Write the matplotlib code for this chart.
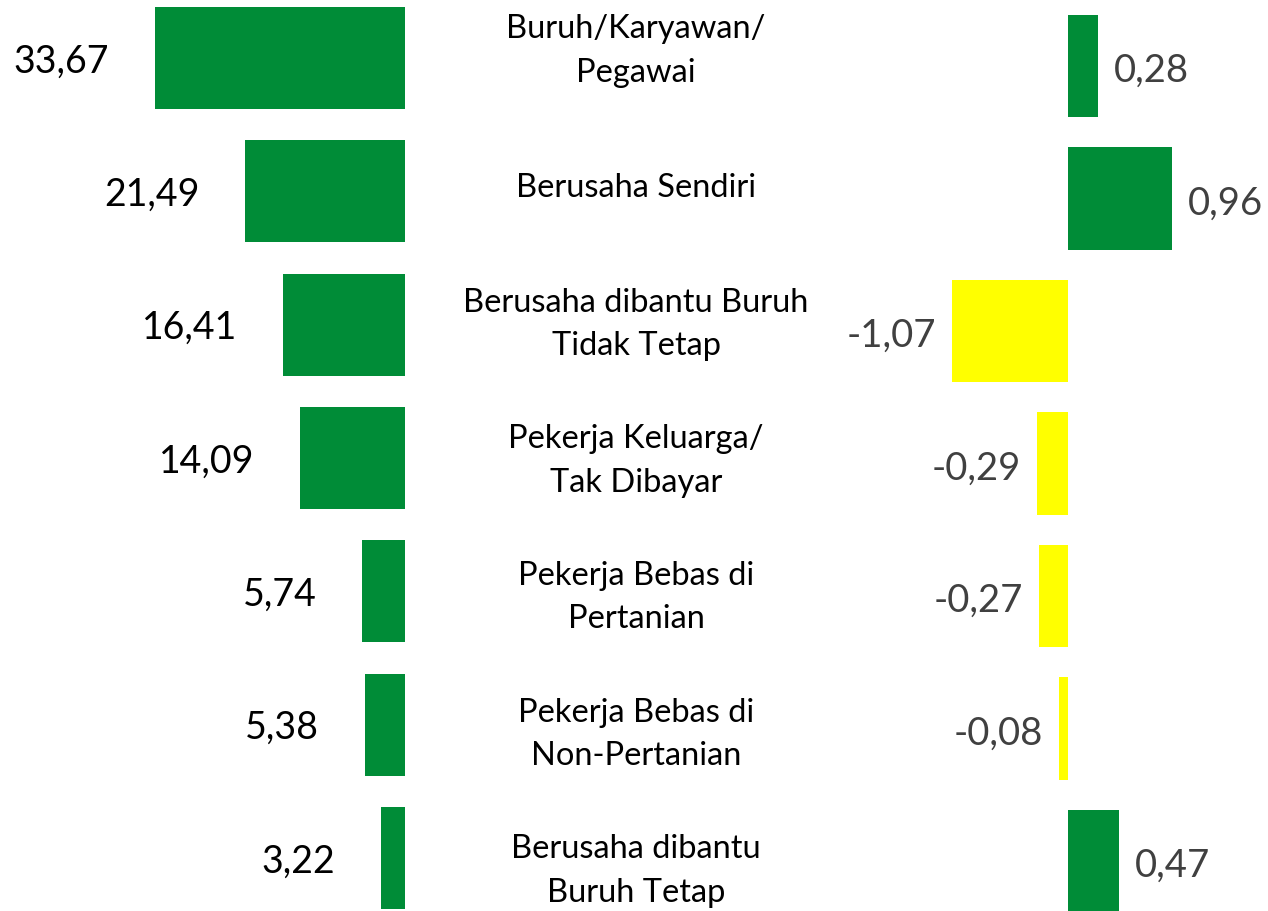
import numpy as np
import matplotlib
matplotlib.use('Agg')
from matplotlib import pyplot as plt

plt.rcParams['font.family'] = ['Lato', 'DejaVu Sans']

categories = ['Buruh/Karyawan/\nPegawai', 'Berusaha Sendiri',
              'Berusaha dibantu Buruh\nTidak Tetap', 'Pekerja Keluarga/\nTak Dibayar',
              'Pekerja Bebas di\nPertanian', 'Pekerja Bebas di\nNon-Pertanian',
              'Berusaha dibantu\nBuruh Tetap']
share = [33.67, 21.49, 16.41, 14.09, 5.74, 5.38, 3.22]
change = [0.28, 0.96, -1.07, -0.29, -0.27, -0.08, 0.47]

green = '#008C37'
yellow = '#FFFF00'

W, H = 1268, 911
fig = plt.figure(figsize=(W/100, H/100), dpi=100)

def fmt(v):
    return f'{v:.2f}'.replace('.', ',')

rows = np.arange(len(categories))

# left panel: share, bars grow leftwards from x=405px
axl = fig.add_axes([0, 0, 1, 1])
axl.patch.set_alpha(0)
pxl = 7.43
axl.set_xlim(405/pxl, -(W-405)/pxl)
axl.set_ylim(6 + 53/133.33, -58/133.33)
axl.barh(rows, share, height=0.765, color=green)
for i, v in enumerate(share):
    axl.annotate(fmt(v), (v, i), xytext=(-33, -2.5), textcoords='offset points',
                 ha='right', va='center', fontsize=27, color='black')
axl.axis('off')

# right panel: change
axr = fig.add_axes([0, 0, 1, 1])
axr.patch.set_alpha(0)
pxr = 108
axr.set_xlim(-1068/pxr, (W-1068)/pxr)
axr.set_ylim(6 + 50/132.5, -66/132.5)
cols = [green if v >= 0 else yellow for v in change]
axr.barh(rows, change, height=0.77, color=cols)
for i, v in enumerate(change):
    off = 11.5 if v >= 0 else -11.5
    axr.annotate(fmt(v), (v, i), xytext=(off, -3.5), textcoords='offset points',
                 ha='left' if v >= 0 else 'right', va='center',
                 fontsize=27.5, color='#404040')
axr.axis('off')

# center labels
axc = fig.add_axes([0, 0, 1, 1])
axc.patch.set_alpha(0)
axc.set_xlim(0, W)
axc.set_ylim(6 + 40/136.7, -51/136.7)
for i, c in enumerate(categories):
    axc.text(636, i, c, ha='center', va='center',
             fontsize=23.5, linespacing=1.55, color='black')
axc.axis('off')

fig.savefig('out.png', dpi=100)
